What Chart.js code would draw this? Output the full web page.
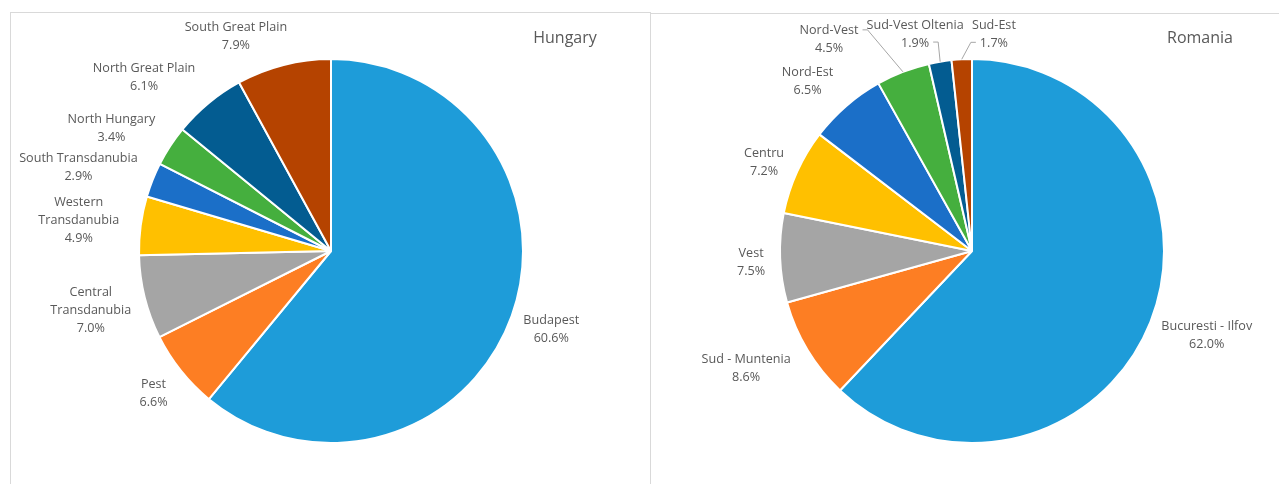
<!DOCTYPE html>
<html>
<head>
<meta charset="utf-8">
<script src="https://cdn.jsdelivr.net/npm/chart.js@4.4.0/dist/chart.umd.min.js"></script>
<style>
  body { margin: 0; background: #fff; width: 1279px; height: 484px; overflow: hidden; position: relative; }
  .box { position: absolute; border-top: 1px solid #d9d9d9; }
  #boxHu { left: 10px; top: 12px; width: 639px; height: 471px; border-left: 1px solid #d9d9d9; border-right: 1px solid #d9d9d9; }
  #boxRo { left: 651px; top: 13px; width: 628px; height: 470px; }
  canvas { position: absolute; left: 0; top: 0; }
</style>
</head>
<body>
<div class="box" id="boxHu"><canvas id="hungary" width="639" height="471"></canvas></div>
<div class="box" id="boxRo"><canvas id="romania" width="628" height="470"></canvas></div>
<script>
// Hungary, share of total by region (%)
const huRegions = ['Budapest', 'Pest', ['Central', 'Transdanubia'], ['Western', 'Transdanubia'],
  'South Transdanubia', 'North Hungary', 'North Great Plain', 'South Great Plain']
const huShares = [60.6, 6.6, 7.0, 4.9, 2.9, 3.4, 6.1, 7.9]

// Romania, share of total by region (%)
const roRegions = ['Bucuresti - Ilfov', 'Sud - Muntenia', 'Vest', 'Centru', 'Nord-Est', 'Nord-Vest',
  'Sud-Vest Oltenia', 'Sud-Est']
const roShares = [62.0, 8.6, 7.5, 7.2, 6.5, 4.5, 1.9, 1.7]

const sliceColors = ['#1e9cd9', '#fd7e23', '#a5a5a5', '#ffc000', '#1b6fc8', '#45af3e', '#035c91', '#b54300']

// label nudges (px) and leader lines, layout only
const huNudge = [[2, 3], [-7, 4], [-3, 4], [-10, 0], [-8, -1], [-12, -1], [-24, -3], [-32, 1]]
const roNudge = [[3, 2], [-13, 3], [-3, 3], [-4, 3], [-14, -2], [-59, -4], [-15, 2], [34, 5]]
const roLeader = [null, null, null, null, null, 0, 1, 1]

const labelFont = '12.6px "Open Sans"'
const lineH = 18

const outsideLabels = {
  id: 'outsideLabels',
  afterDatasetsDraw(chart, args, opts) {
    const ctx = chart.ctx
    const ds = chart.data.datasets[0]
    const arcs = chart.getDatasetMeta(0).data
    ctx.save()
    ctx.font = labelFont
    ctx.fillStyle = '#595959'
    ctx.textAlign = 'center'
    ctx.textBaseline = 'middle'
    arcs.forEach((arc, i) => {
      const p = arc.getProps(['x', 'y', 'startAngle', 'endAngle', 'outerRadius'], true)
      const mid = (p.startAngle + p.endAngle) / 2
      const ux = Math.cos(mid), uy = Math.sin(mid)
      const name = chart.data.labels[i]
      const lines = (Array.isArray(name) ? name : [name]).concat([ds.data[i].toFixed(1) + '%'])
      const widths = lines.map(t => ctx.measureText(t).width)
      const halfW = Math.max(...widths) / 2
      const halfH = lines.length * lineH / 2
      const nudge = opts.nudge[i]
      const cx = p.x + ux * (p.outerRadius + 12) + ux * halfW + nudge[0]
      const cy = p.y + uy * (p.outerRadius + 12) + uy * halfH + nudge[1]
      const top = cy - (lines.length - 1) * lineH / 2
      lines.forEach((t, k) => ctx.fillText(t, cx, top + k * lineH))

      const li = opts.leader ? opts.leader[i] : null
      if (li !== null && li !== undefined) {
        const ax = p.x + ux * p.outerRadius, ay = p.y + uy * p.outerRadius
        const ly = top + li * lineH - 1
        const side = cx < ax ? 1 : -1
        const ex = cx + side * (widths[li] / 2 + 4)
        ctx.strokeStyle = '#a6a6a6'
        ctx.lineWidth = 1
        ctx.beginPath()
        ctx.moveTo(ax, ay)
        ctx.lineTo(ex + side * 5, ly)
        ctx.lineTo(ex, ly)
        ctx.stroke()
      }
    })
    // chart title
    ctx.font = '16px "Open Sans"'
    ctx.fillStyle = '#595959'
    ctx.fillText(opts.title, opts.titleX, opts.titleY)
    ctx.restore()
  }
}

function makePie(id, labels, values, padding, labelOpts) {
  return new Chart(document.getElementById(id), {
    type: 'pie',
    data: {
      labels: labels,
      datasets: [{
        data: values,
        backgroundColor: sliceColors,
        borderColor: '#ffffff',
        borderWidth: 2
      }]
    },
    options: {
      responsive: false,
      animation: false,
      radius: 192,
      layout: { padding: padding },
      plugins: {
        legend: { display: false },
        tooltip: { enabled: false },
        outsideLabels: labelOpts
      }
    },
    plugins: [outsideLabels]
  })
}

const chartHu = makePie('hungary', huRegions, huShares,
  { left: 120, right: 119, top: 38, bottom: 33 },
  { nudge: huNudge, leader: null, title: 'Hungary', titleX: 554, titleY: 25 })

const chartRo = makePie('romania', roRegions, roShares,
  { left: 121, right: 107, top: 37, bottom: 33 },
  { nudge: roNudge, leader: roLeader, title: 'Romania', titleX: 549, titleY: 24 })
</script>
</body>
</html>
